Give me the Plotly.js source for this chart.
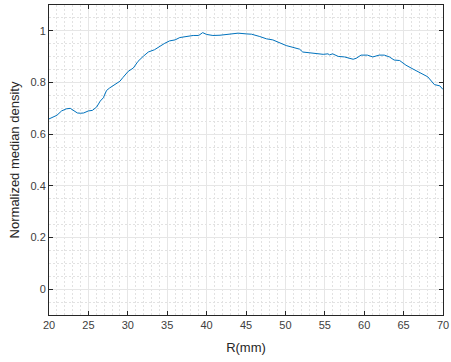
<!DOCTYPE html>
<html><head><meta charset="utf-8">
<script src="https://cdn.plot.ly/plotly-3.0.1.min.js"></script>
<style>html,body{margin:0;padding:0;background:#fff;}#chart{width:451px;height:362px;}</style>
</head><body><div id="chart"></div>
<script>
var radius = [20.0,20.5,21.0,21.6,22.2,22.7,23.1,23.6,24.0,24.4,25.0,25.5,26.05,26.5,26.9,27.3,27.7,28.4,29.0,29.4,30.05,30.7,31.3,31.95,32.6,33.4,34.1,34.7,35.3,36.0,36.6,37.45,38.3,39.0,39.5,40.0,40.8,41.7,42.9,44.0,45.1,45.7,46.75,47.6,48.4,49.3,50.1,50.96,51.8,52.2,53.1,53.9,54.8,55.4,55.6,56.0,56.7,57.5,58.6,59.0,59.6,60.4,61.1,61.9,62.55,63.2,63.8,64.5,65.3,66.2,67.0,68.07,68.9,69.6,70.0];
var density = [0.659,0.666,0.673,0.69,0.698,0.70,0.692,0.682,0.681,0.682,0.69,0.692,0.705,0.728,0.741,0.769,0.779,0.792,0.805,0.82,0.843,0.856,0.882,0.901,0.918,0.927,0.942,0.952,0.961,0.965,0.974,0.979,0.982,0.982,0.993,0.986,0.982,0.983,0.988,0.991,0.988,0.987,0.978,0.969,0.965,0.952,0.943,0.936,0.929,0.918,0.914,0.911,0.909,0.911,0.907,0.911,0.901,0.899,0.89,0.894,0.906,0.906,0.899,0.906,0.906,0.899,0.887,0.885,0.867,0.852,0.84,0.822,0.792,0.787,0.773];
var xTicks = [20,25,30,35,40,45,50,55,60,65,70];
var yTicks = [0,0.2,0.4,0.6,0.8,1];
var yTickText = ['0','0.2','0.4','0.6','0.8','1'];

var titleFont = {family: 'Liberation Sans, Arial, sans-serif', size: 13, color: '#262626'};
var axisCommon = {
  showline: true, linecolor: '#262626', linewidth: 1, mirror: 'ticks',
  ticks: 'inside', ticklen: 4, tickcolor: '#262626', tickwidth: 1,
  showgrid: true, gridcolor: '#e6e6e6', gridwidth: 1, zeroline: false,
  tickfont: {family: 'Liberation Sans, Arial, sans-serif', size: 11, color: '#404040'}
};

var layout = {
  width: 451, height: 362,
  margin: {l: 49, r: 8, t: 5, b: 47},
  paper_bgcolor: '#ffffff', plot_bgcolor: '#ffffff',
  showlegend: false,
  xaxis: Object.assign({}, axisCommon, {
    range: [20, 70], tickmode: 'array', tickvals: xTicks, ticktext: xTicks.map(String),
    minor: {dtick: 1, tick0: 20, showgrid: true, gridcolor: '#e2e2e2', griddash: '2px,2px', gridwidth: 1, ticks: ''},
    title: {text: 'R(mm)', standoff: 12, font: titleFont}
  }),
  yaxis: Object.assign({}, axisCommon, {
    range: [-0.1, 1.1], tickmode: 'array', tickvals: yTicks, ticktext: yTickText,
    minor: {dtick: 0.05, tick0: 0, showgrid: true, gridcolor: '#e2e2e2', griddash: '2px,2px', gridwidth: 1, ticks: ''},
    title: {text: 'Normalized median density', standoff: 7, font: titleFont}
  })
};

Plotly.newPlot('chart', [{
  x: radius, y: density, type: 'scatter', mode: 'lines',
  line: {color: '#0072BD', width: 1}
}], layout, {staticPlot: true, displayModeBar: false});
</script></body></html>
